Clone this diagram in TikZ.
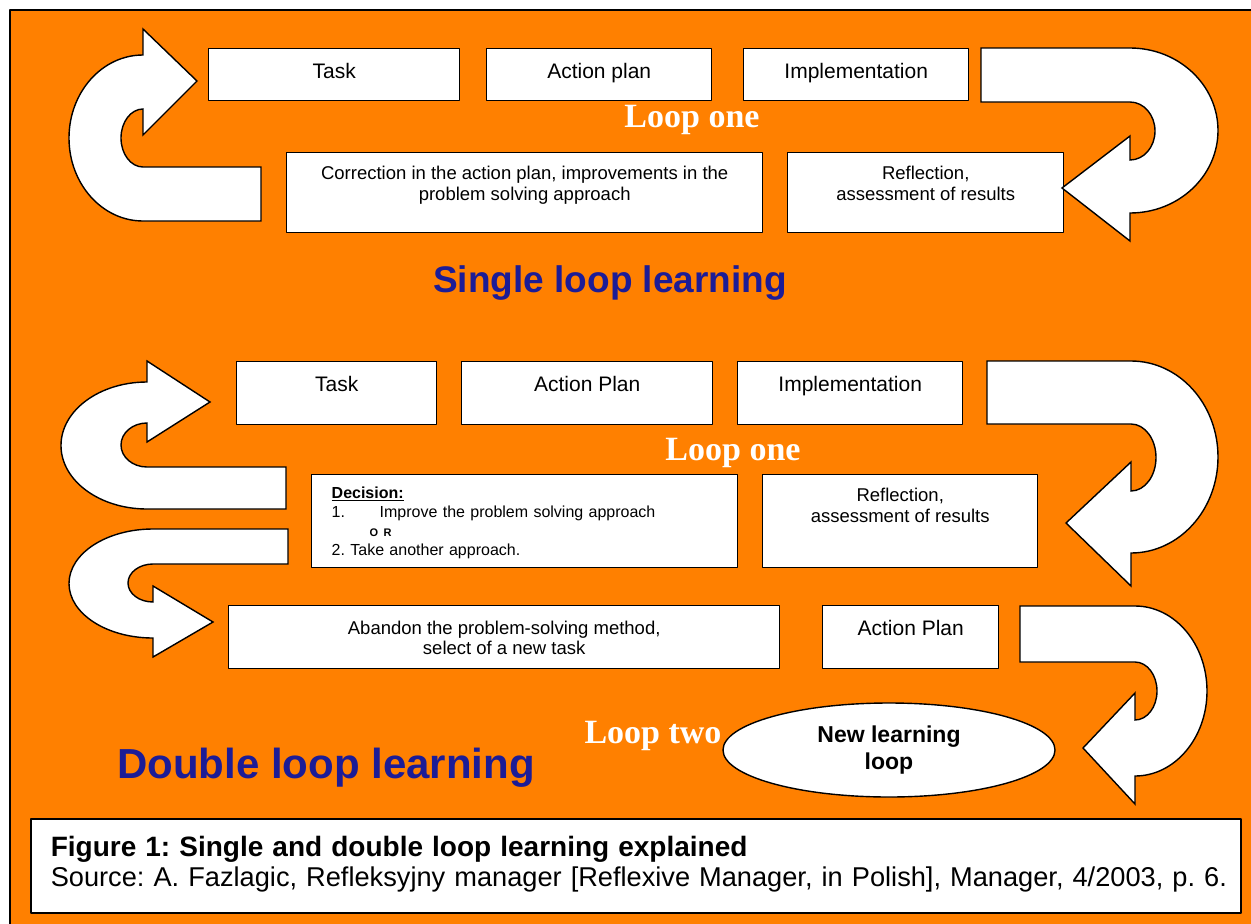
\documentclass[tikz,border=0pt]{standalone}
\usepackage{fontspec}
\setmainfont{Liberation Sans}
\newfontfamily\timesfont{Liberation Serif}
\usepackage{tikz}
\usetikzlibrary{shapes,arrows}
\definecolor{LoopOrange}{RGB}{255,128,0}
\definecolor{LoopBlue}{RGB}{28,28,150}
\frenchspacing

\begin{document}
\begin{tikzpicture}[line cap=round,line join=round,x=1pt,y=-1pt,
  box/.style={draw=black,line width=1.4pt,fill=white,inner sep=0pt,anchor=north west,align=center},
  uturn/.style={draw=black,line width=1.4pt,fill=white,line join=miter},
  looptext/.style={color=white,anchor=base,font=\timesfont\bfseries\fontsize{34}{38}\selectfont},
  headline/.style={color=LoopBlue,anchor=base}]
\useasboundingbox (0,0) rectangle (1251,924);
\fill[white] (0,0) rectangle (1251,924);
\fill[LoopOrange] (10,10) rectangle (1251,924);
\draw[line width=1.6pt] (10,924) -- (10,10) -- (1251,10);

%% single loop
\draw (208,48) node[box,minimum width=251pt,minimum height=52pt,text height=30pt,text depth=22pt,font=\fontsize{21}{25}\selectfont] (task) {Task};
\draw (486,48) node[box,minimum width=225pt,minimum height=52pt,text height=30pt,text depth=22pt,font=\fontsize{21}{25}\selectfont] (plan) {Action plan};
\draw (743,48) node[box,minimum width=225pt,minimum height=52pt,text height=30pt,text depth=22pt,font=\fontsize{21}{25}\selectfont] (impl) {Implementation};
\draw (286,152) node[box,minimum width=476pt,minimum height=80pt,text height=48pt,text depth=32pt,font=\fontsize{18.5}{21}\selectfont] (corr) {Correction in the action plan, improvements in the\\problem solving approach};
\draw (787,152) node[box,minimum width=276pt,minimum height=80pt,text height=48pt,text depth=32pt,font=\fontsize{18.5}{21}\selectfont] (refl) {Reflection,\\assessment of results};

\draw[uturn] (261,167) -- (143,167) arc[start angle=90,end angle=270,x radius=22,y radius=29]
  -- (143,135) -- (197,81) -- (143,29) -- (143,55)
  arc[start angle=270,end angle=90,x radius=74,y radius=83] -- (261,221) -- cycle;
\draw[uturn] (981,48) -- (1130,48) arc[start angle=-90,end angle=90,x radius=88,y radius=82.5]
  -- (1130,241) -- (1062,188) -- (1130,136) -- (1130,160)
  arc[start angle=90,end angle=-90,x radius=25,y radius=29] -- (981,102) -- cycle;

\draw (692,127) node[looptext] (loopa) {Loop one};
\draw (610,292) node[headline,font=\bfseries\fontsize{37}{42}\selectfont] (single) {Single loop learning};

%% double loop
\draw (236,361) node[box,minimum width=200pt,minimum height=63pt,text height=30pt,text depth=33pt,font=\fontsize{21}{25}\selectfont] (taskb) {Task};
\draw (461,361) node[box,minimum width=251pt,minimum height=63pt,text height=30pt,text depth=33pt,font=\fontsize{21}{25}\selectfont] (planb) {Action Plan};
\draw (737,361) node[box,minimum width=225pt,minimum height=63pt,text height=30pt,text depth=33pt,font=\fontsize{21}{25}\selectfont] (implb) {Implementation};
\draw (311,474) node[box,minimum width=426pt,minimum height=93pt,inner xsep=20pt,text width=386pt,align=left,text height=24pt,text depth=69pt,font=\fontsize{16}{19}\selectfont] (decision) {\underline{\bfseries Decision:}\\
  \makebox[48pt][l]{1.}Improve the problem solving approach\\
  \hspace*{38pt}{\bfseries\fontsize{11}{13}\selectfont O R}\\
  2. Take another approach.};
\draw (762,474) node[box,minimum width=275pt,minimum height=93pt,text height=48pt,text depth=45pt,font=\fontsize{18.5}{21}\selectfont] (reflb) {Reflection,\\assessment of results};
\draw (228,605) node[box,minimum width=551pt,minimum height=63pt,text height=49pt,text depth=14pt,font=\fontsize{18.5}{20}\selectfont] (abandon) {Abandon the problem-solving method,\\select of a new task};
\draw (822,605) node[box,minimum width=176pt,minimum height=63pt,text height=30pt,text depth=33pt,font=\fontsize{21}{25}\selectfont] (planc) {Action Plan};
\draw (889,750) node[ellipse,draw=black,line width=1.4pt,fill=white,minimum width=332pt,minimum height=94pt,inner sep=0pt,align=center,font=\bfseries\fontsize{23}{27}\selectfont] (newloop) {New learning\\loop};

\draw[uturn] (286,467) -- (147,467) arc[start angle=90,end angle=270,x radius=26,y radius=22]
  -- (147,442) -- (210,402) -- (147,361) -- (147,382)
  arc[start angle=270,end angle=90,x radius=86,y radius=63.5] -- (286,509) -- cycle;
\draw[uturn] (288,529) -- (153,529) arc[start angle=270,end angle=90,x radius=84,y radius=54.5]
  -- (153,657) -- (213,622) -- (153,586) -- (153,602)
  arc[start angle=90,end angle=270,x radius=25,y radius=19] -- (288,564) -- cycle;
\draw[uturn] (987,361) -- (1131,361) arc[start angle=-90,end angle=90,x radius=87,y radius=96]
  -- (1131,586) -- (1066,523) -- (1131,462) -- (1131,491)
  arc[start angle=90,end angle=-90,x radius=25,y radius=33.5] -- (987,424) -- cycle;
\draw[uturn] (1020,606) -- (1135,606) arc[start angle=-90,end angle=90,x radius=72,y radius=85]
  -- (1135,804) -- (1083,748) -- (1135,693) -- (1135,720)
  arc[start angle=90,end angle=-90,x radius=22,y radius=29] -- (1020,662) -- cycle;

\draw (733,460) node[looptext] (loopb) {Loop one};
\draw (653,743) node[looptext] (loopc) {Loop two};
\draw (326,778) node[headline,font=\bfseries\fontsize{42}{48}\selectfont] (double) {Double loop learning};

%% caption
\draw (30,818) node[box,minimum width=1210pt,minimum height=94pt,inner xsep=0pt,text width=1210pt,align=left,text height=38pt,text depth=56pt,line width=1.6pt,font=\fontsize{27.2}{30}\selectfont] (caption) {\hspace*{20pt}{\bfseries\fontsize{28}{30}\selectfont Figure 1: Single and double loop learning explained}\\
  \hspace*{20pt}Source: A. Fazlagic, Refleksyjny manager [Reflexive Manager, in Polish], Manager, 4/2003, p. 6.};
\end{tikzpicture}
\end{document}
